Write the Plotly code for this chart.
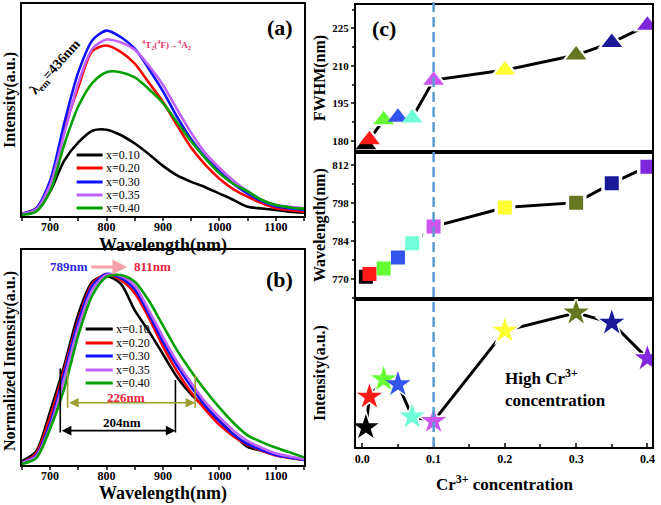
import plotly.graph_objects as go

# ---------------- data ----------------
wl = [650, 675, 700, 725, 750, 775, 800, 825, 850, 875, 900, 925, 950, 975, 1000, 1025, 1050, 1075, 1100, 1125, 1150]
labels = ["x=0.10", "x=0.20", "x=0.30", "x=0.35", "x=0.40"]
line_colors = ["#000000", "#FF0000", "#1010FF", "#C062FF", "#00A000"]

# panel (a) emission intensity (a.u.)
int_010 = [1.5, 3.5, 12, 26.5, 35, 40.5, 41, 38.5, 34.5, 29.5, 24, 19.5, 16.5, 14, 11, 8, 4.8, 4, 3.3, 2.5, 2]
int_020 = [1.5, 4, 16.5, 41, 61, 78, 80.5, 77.5, 72, 63, 54, 43, 32.5, 24.5, 18, 13, 9.5, 6.5, 4.1, 3.2, 2.5]
int_030 = [1.5, 4, 17, 44, 68, 83, 87.5, 84.5, 79, 69.5, 59, 47, 36.5, 28, 21.5, 15.5, 11, 7.5, 5, 4, 3.3]
int_035 = [1.5, 3.5, 15, 39, 63, 79, 83.3, 82, 78.5, 71, 62, 50.5, 39.5, 30, 23, 17, 12, 8, 5.6, 4.8, 4.1]
int_040 = [1, 2.5, 12, 34, 52, 63, 68, 68, 65.5, 60, 53.5, 44.5, 35.5, 27.5, 20.5, 15.5, 12, 8, 5.6, 4.5, 3.8]

# panel (b) normalized intensity
norm_010 = [0.02, 0.07, 0.28, 0.52, 0.79, 0.96, 0.99, 0.95, 0.81, 0.70, 0.58, 0.46, 0.37, 0.30, 0.23, 0.16, 0.095, 0.075, 0.055, 0.04, 0.027]
norm_020 = [0.01, 0.06, 0.25, 0.50, 0.76, 0.95, 1.0, 0.97, 0.90, 0.77, 0.62, 0.49, 0.38, 0.29, 0.21, 0.15, 0.105, 0.075, 0.05, 0.037, 0.027]
norm_030 = [0.01, 0.05, 0.22, 0.48, 0.75, 0.94, 1.0, 0.98, 0.92, 0.79, 0.645, 0.52, 0.41, 0.31, 0.23, 0.16, 0.11, 0.078, 0.052, 0.038, 0.028]
norm_035 = [0.01, 0.045, 0.20, 0.45, 0.72, 0.92, 0.995, 0.99, 0.94, 0.81, 0.67, 0.54, 0.43, 0.33, 0.25, 0.18, 0.125, 0.09, 0.06, 0.045, 0.032]
norm_040 = [0.005, 0.035, 0.19, 0.40, 0.68, 0.89, 0.985, 0.995, 0.96, 0.86, 0.73, 0.60, 0.49, 0.39, 0.30, 0.22, 0.155, 0.12, 0.09, 0.065, 0.04]

# panel (c)
conc = [0.005, 0.01, 0.03, 0.05, 0.07, 0.1, 0.2, 0.3, 0.35, 0.4]
fwhm = [178.5, 180.5, 188.5, 189.5, 189.2, 204.3, 208.3, 214.3, 219.3, 226.2]
peak_wl = [771, 772, 774, 778, 783.3, 789.4, 796.4, 798.2, 805.3, 811.4]
intensity_c = [13.3, 34.3, 46.2, 42.8, 20.6, 17.6, 79.6, 92, 85.1, 60.6]
marker_colors = ["#000000", "#FF1A1A", "#66FF33", "#3355EE", "#70FFD8",
                 "#CC55EE", "#FFFF33", "#667722", "#1A1A99", "#8026DD"]

FONT = "Liberation Serif"
W, H = 661, 505

fig = go.Figure()

int_sets = [int_010, int_020, int_030, int_035, int_040]
norm_sets = [norm_010, norm_020, norm_030, norm_035, norm_040]

for ys, c, lab in zip(int_sets, line_colors, labels):
    fig.add_trace(go.Scatter(x=wl, y=ys, mode="lines", name=lab, showlegend=False,
                             line=dict(color=c, width=2.6, shape="spline", smoothing=0.8),
                             xaxis="x", yaxis="y"))
for ys, c, lab in zip(norm_sets, line_colors, labels):
    fig.add_trace(go.Scatter(x=wl, y=ys, mode="lines", name=lab, showlegend=False,
                             line=dict(color=c, width=2.6, shape="spline", smoothing=0.8),
                             xaxis="x2", yaxis="y2"))

# panel (c) three stacked plots
for ax, ys, sym, sz in [("3", fwhm, "triangle-up", 18), ("4", peak_wl, "square", 14), ("5", intensity_c, "star", 19)]:
    fig.add_trace(go.Scatter(x=conc, y=ys, mode="lines", showlegend=False,
                             line=dict(color="black", width=3), xaxis="x" + ax, yaxis="y" + ax))
    fig.add_trace(go.Scatter(x=conc, y=ys, mode="markers", showlegend=False,
                             marker=dict(symbol=sym, size=sz + 7, color="white", line=dict(width=0)),
                             xaxis="x" + ax, yaxis="y" + ax))
    fig.add_trace(go.Scatter(x=conc, y=ys, mode="markers", showlegend=False,
                             marker=dict(symbol=sym, size=sz, color=marker_colors, line=dict(width=0)),
                             xaxis="x" + ax, yaxis="y" + ax))

axis_common = dict(showline=True, mirror=True, linewidth=2, linecolor="black", showgrid=False,
                   zeroline=False, tickfont=dict(family=FONT, size=12, color="black", weight="bold"))

xa = dict(axis_common, range=[650, 1150], tickvals=[700, 800, 900, 1000, 1100], ticks="outside",
          ticklen=3, tickwidth=1.5, ticklabelstandoff=-4,
          minor=dict(ticks="outside", dtick=50, tick0=650, ticklen=3, tickwidth=1.5))
ya_hidden = dict(axis_common, showticklabels=False, ticks="")

xc = dict(axis_common, range=[-0.0091, 0.4065], tickvals=[0.0, 0.1, 0.2, 0.3, 0.4],
          ticktext=["0.0", "0.1", "0.2", "0.3", "0.4"], ticks="inside", ticklen=4, tickwidth=2,
          minor=dict(ticks="inside", dtick=0.05, tick0=0, ticklen=3, tickwidth=2))
yc = dict(axis_common, ticks="outside", ticklen=3, tickwidth=2,
          tickfont=dict(family=FONT, size=11, color="black", weight="bold"))


def px_x(p):
    return p / W


def px_y(p):
    return 1 - p / H


fig.update_layout(
    width=W, height=H, margin=dict(l=0, r=0, t=0, b=0),
    paper_bgcolor="white", plot_bgcolor="white", showlegend=False,
    xaxis=dict(xa, domain=[px_x(21), px_x(305)], anchor="y"),
    yaxis=dict(ya_hidden, domain=[px_y(216), px_y(4)], range=[0.47, 100], anchor="x"),
    xaxis2=dict(xa, domain=[px_x(21), px_x(305)], anchor="y2"),
    yaxis2=dict(ya_hidden, domain=[px_y(465), px_y(250)], range=[0.0, 1.126], anchor="x2"),
    xaxis3=dict(xc, domain=[px_x(357), px_x(655)], anchor="y3", showticklabels=False, ticks="", minor=dict(ticks="")),
    yaxis3=dict(yc, domain=[px_y(152), px_y(5)], range=[175.6, 234.3], tickvals=[180, 195, 210, 225],
                minor=dict(ticks="outside", dtick=7.5, tick0=180, ticklen=2, tickwidth=2), anchor="x3"),
    xaxis4=dict(xc, domain=[px_x(357), px_x(655)], anchor="y4", showticklabels=False, ticks="", minor=dict(ticks="")),
    yaxis4=dict(yc, domain=[px_y(299), px_y(152)], range=[762.8, 816.8], tickvals=[770, 784, 798, 812],
                minor=dict(ticks="outside", dtick=7, tick0=770, ticklen=2, tickwidth=2), anchor="x4"),
    xaxis5=dict(xc, domain=[px_x(357), px_x(655)], anchor="y5"),
    yaxis5=dict(yc, domain=[px_y(447), px_y(299)], range=[-0.2, 101.4], showticklabels=False, ticks="", anchor="x5"),
)

shapes = []
annotations = []

# legends drawn inside panels (a) and (b)
leg_a_y = [29.1, 23.0, 16.4, 10.3, 4.2]
leg_b_y = [0.712, 0.639, 0.571, 0.497, 0.429]
for c, lab, ya_, yb_ in zip(line_colors, labels, leg_a_y, leg_b_y):
    shapes.append(dict(type="line", xref="x", yref="y", x0=747, x1=793, y0=ya_, y1=ya_,
                       line=dict(color=c, width=3)))
    annotations.append(dict(xref="x", yref="y", x=795, y=ya_, text=lab, showarrow=False,
                            xanchor="left", yanchor="middle", font=dict(family=FONT, size=12, color="black")))
    shapes.append(dict(type="line", xref="x2", yref="y2", x0=763, x1=811, y0=yb_, y1=yb_,
                       line=dict(color=c, width=3)))
    annotations.append(dict(xref="x2", yref="y2", x=813, y=yb_, text=lab, showarrow=False,
                            xanchor="left", yanchor="middle", font=dict(family=FONT, size=12, color="black")))


def bold(s, c="black"):
    return dict(family=FONT, size=s, color=c, weight="bold")


# panel (a) texts
annotations += [
    dict(xref="x", yref="y", x=1107, y=89, text="(a)", showarrow=False, font=bold(22)),
    dict(xref="x", yref="y", x=710, y=70, text="λ<sub>em</sub>=436nm", showarrow=False,
         textangle=-48, font=bold(14)),
    dict(xref="x", yref="y", x=906, y=81, showarrow=False, font=bold(9, "#E8336E"),
         text="<sup>4</sup>T<sub>2</sub>(<sup>4</sup>F)→<sup>4</sup>A<sub>2</sub>"),
]

# panel (b) texts and arrows
annotations += [
    dict(xref="x2", yref="y2", x=1107, y=0.974, text="(b)", showarrow=False, font=bold(22)),
    dict(xref="x2", yref="y2", x=733, y=1.037, text="789nm", showarrow=False, font=bold(13, "#2B2BE0")),
    dict(xref="x2", yref="y2", x=881, y=1.037, text="811nm", showarrow=False, font=bold(13, "#E8203A")),
    dict(xref="x2", yref="y2", x=837, y=1.037, ax=770, ay=1.037, axref="x2", ayref="y2", text="",
         showarrow=True, arrowhead=2, arrowsize=1, arrowwidth=3, arrowcolor="#F4A4A8"),
    dict(xref="x2", yref="y2", x=957, y=0.326, ax=731, ay=0.326, axref="x2", ayref="y2", text="",
         showarrow=True, arrowhead=2, arrowside="end+start", arrowsize=1.2, arrowwidth=1.6, arrowcolor="#9C9E30"),
    dict(xref="x2", yref="y2", x=922, y=0.18, ax=718, ay=0.18, axref="x2", ayref="y2", text="",
         showarrow=True, arrowhead=2, arrowside="end+start", arrowsize=1.2, arrowwidth=1.6, arrowcolor="black"),
    dict(xref="x2", yref="y2", x=834, y=0.356, text="226nm", showarrow=False, font=bold(13, "#E8203A")),
    dict(xref="x2", yref="y2", x=828, y=0.222, text="204nm", showarrow=False, font=bold(13)),
]
shapes += [
    dict(type="line", xref="x2", yref="y2", x0=731, x1=731, y0=0.30, y1=0.49, line=dict(color="#9C9E30", width=1.6)),
    dict(type="line", xref="x2", yref="y2", x0=957, x1=957, y0=0.30, y1=0.47, line=dict(color="#9C9E30", width=1.6)),
    dict(type="line", xref="x2", yref="y2", x0=718, x1=718, y0=0.17, y1=0.506, line=dict(color="black", width=1.6)),
    dict(type="line", xref="x2", yref="y2", x0=922, x1=922, y0=0.17, y1=0.445, line=dict(color="black", width=1.6)),
]

# panel (c) texts and the dashed guide line
shapes.append(dict(type="line", xref="x5", yref="paper", x0=0.1, x1=0.1, y0=px_y(447), y1=px_y(2),
                   line=dict(color="#5B9BD5", width=2.5, dash="10px,5px")))
annotations += [
    dict(xref="x3", yref="y3", x=0.03, y=225, text="(c)", showarrow=False, font=bold(22)),
    dict(xref="x5", yref="y5", x=0.197, y=40, xanchor="left", yanchor="middle", align="left", showarrow=False,
         text="High Cr<sup>3+</sup><br>concentration", font=bold(17)),
]


def title(text, cx, cy, size, angle=0):
    return dict(xref="paper", yref="paper", x=px_x(cx), y=px_y(cy), text=text, textangle=angle,
                xanchor="center", yanchor="middle", showarrow=False, font=bold(size))


annotations += [
    title("Intensity(a.u.)", 9, 100, 16, -90),
    title("Normalized Intensity(a.u.)", 9, 361, 16, -90),
    title("Wavelength(nm)", 163, 245, 18),
    title("Wavelength(nm)", 163, 493, 18),
    title("FWHM(nm)", 321, 78, 16, -90),
    title("Wavelength(nm)", 321, 225, 16, -90),
    title("Intensity(a.u.)", 321, 373, 16, -90),
    title("Cr<sup>3+</sup> concentration", 507, 483, 17),
]

fig.update_layout(shapes=shapes, annotations=annotations)
fig.write_html("out.html", config={"displayModeBar": False},
               post_script="document.body.style.margin='0';document.body.style.overflow='hidden';")
